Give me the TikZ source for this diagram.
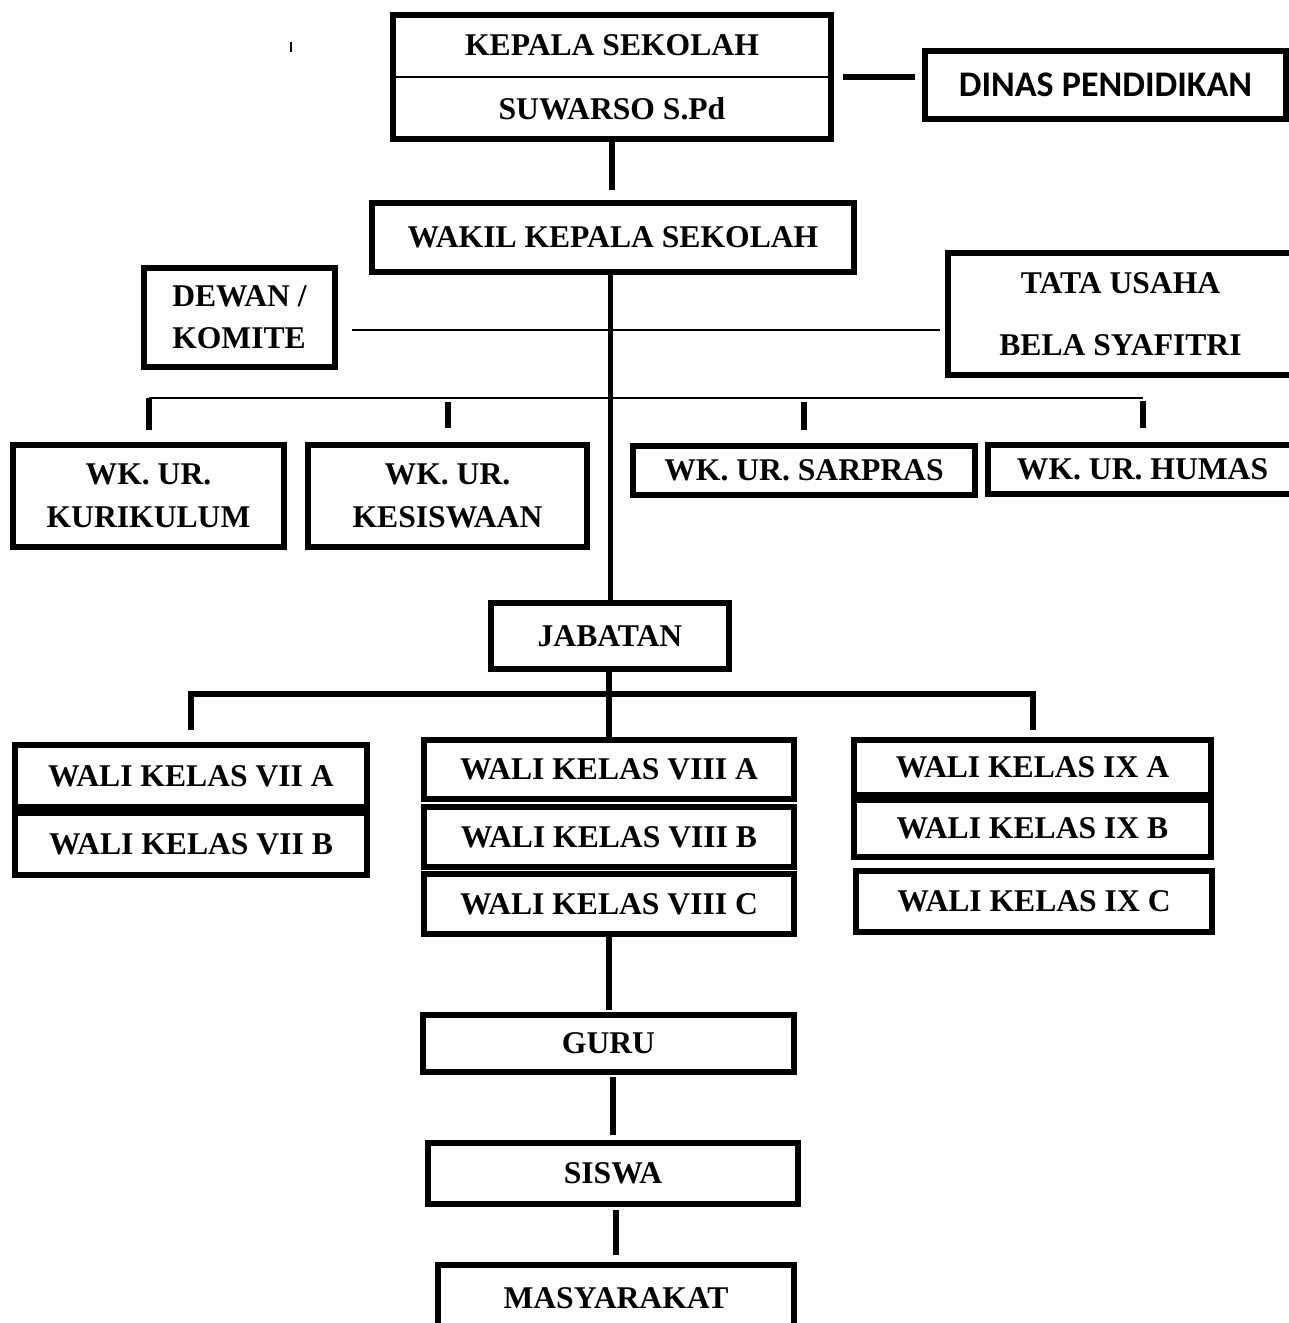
\documentclass[tikz,border=0pt]{standalone}
\usepackage{fontspec}
\setmainfont{Liberation Serif}
\newfontfamily\calibrifont{Carlito}
\usetikzlibrary{positioning, calc}

\begin{document}
\begin{tikzpicture}[
  x=0.02cm, y=-0.02cm,
  box/.style={draw, line width=0.12cm, inner sep=0pt, align=center, font=\fontsize{18}{22}\selectfont\bfseries},
  conn/.style={line width=0.12cm},
  thinline/.style={line width=0.05cm}
  ]
  \useasboundingbox (0,0) rectangle (1289,1323);
  \clip (0,0) rectangle (1289,1323);
  % kepala sekolah, dinas
  \node[box, minimum width=8.76cm, minimum height=2.48cm, font=\fontsize{18}{36.4}\selectfont\bfseries] (kepala) at (612,77) {KEPALA SEKOLAH\\SUWARSO S.Pd};
  \draw[line width=0.04cm] (kepala.west) -- (kepala.east);
  \node[box, minimum width=7.22cm, minimum height=1.36cm, font=\calibrifont\fontsize{20.5}{24}\selectfont\bfseries] (dinas) at (1105.5,85) {DINAS PENDIDIKAN};
  \draw[conn, shorten <=0.18cm, shorten >=0.14cm] (kepala.east) -- (kepala.east -| dinas.west);
  \draw[line width=0.03cm] (291,42) -- (291,52);
  % wakil
  \node[box, minimum width=9.64cm, minimum height=1.38cm] (wakil) at (613,237.5) {WAKIL KEPALA SEKOLAH};
  \draw[conn, shorten >=0.2cm] (kepala.south) -- (kepala.south |- wakil.north);
  \node[box, minimum width=3.82cm, minimum height=1.98cm, align=left, font=\fontsize{18}{24}\selectfont\bfseries] (dewan) at (239.5,317.5) {DEWAN /\\KOMITE};
  \node[box, minimum width=6.9cm, minimum height=2.44cm, font=\fontsize{18}{35}\selectfont\bfseries] (tata) at (1120.5,314) {TATA USAHA\\BELA SYAFITRI};
  % wk. ur.
  \node[box, minimum width=5.42cm, minimum height=2.04cm, font=\fontsize{18}{24.4}\selectfont\bfseries] (kur) at (148.5,496) {WK. UR.\\KURIKULUM};
  \node[box, minimum width=5.58cm, minimum height=2.04cm, font=\fontsize{18}{24.4}\selectfont\bfseries] (kes) at (447.5,496) {WK. UR.\\KESISWAAN};
  \node[box, minimum width=6.84cm, minimum height=0.98cm] (sar) at (804,470.5) {WK. UR. SARPRAS};
  \node[box, minimum width=6.18cm, minimum height=0.98cm] (hum) at (1142.5,469.5) {WK. UR. HUMAS};
  \node[box, minimum width=4.76cm, minimum height=1.32cm] (jab) at (610,636) {JABATAN};
  \coordinate (bus0) at (609,330);
  \coordinate (bus1) at (609,398);
  \draw[line width=0.1cm] (jab.north |- wakil.south) -- (jab.north);
  \draw[thinline, shorten <=0.28cm, shorten >=0.1cm] (dewan.east |- bus0) -- (tata.west |- bus0);
  \draw[thinline] (kur.north |- bus1) -- (hum.north |- bus1);
  \draw[conn, shorten >=0.24cm] (kur.north |- bus1) -- (kur.north);
  \draw[conn, shorten <=0.08cm, shorten >=0.28cm] (kes.north |- bus1) -- (kes.north);
  \draw[conn, shorten <=0.08cm, shorten >=0.26cm] (sar.north |- bus1) -- (sar.north);
  \draw[conn, shorten <=0.06cm, shorten >=0.28cm] (hum.north |- bus1) -- (hum.north);
  % wali kelas
  \node[box, minimum width=7.04cm, minimum height=1.24cm] (viiA) at (191,776) {WALI KELAS VII A};
  \node[box, minimum width=7.04cm, minimum height=1.24cm] (viiB) at (191,844) {WALI KELAS VII B};
  \node[box, minimum width=7.4cm, minimum height=1.18cm] (viiiA) at (609,769.5) {WALI KELAS VIII A};
  \node[box, minimum width=7.4cm, minimum height=1.2cm] (viiiB) at (609,837) {WALI KELAS VIII B};
  \node[box, minimum width=7.4cm, minimum height=1.2cm] (viiiC) at (609,904) {WALI KELAS VIII C};
  \node[box, minimum width=7.14cm, minimum height=1.1cm] (ixA) at (1032.5,767.5) {WALI KELAS IX A};
  \node[box, minimum width=7.14cm, minimum height=1.14cm] (ixB) at (1032.5,828.5) {WALI KELAS IX B};
  \node[box, minimum width=7.12cm, minimum height=1.22cm] (ixC) at (1034,901.5) {WALI KELAS IX C};
  \coordinate (bus2) at (609,694);
  \draw[conn] (viiiA.north |- jab.south) -- (viiiA.north);
  \draw[conn, shorten <=0.24cm, shorten >=0.14cm] (viiA.north) |- (bus2) -| (ixA.north);
  % guru, siswa, masyarakat
  \node[box, minimum width=7.42cm, minimum height=1.14cm] (guru) at (608.5,1043.5) {GURU};
  \node[box, minimum width=7.4cm, minimum height=1.22cm] (siswa) at (613,1173.5) {SISWA};
  \node[box, minimum width=7.12cm, minimum height=1.34cm] (masy) at (616,1298.5) {MASYARAKAT};
  \draw[conn, shorten >=0.04cm] (guru.north |- viiiC.south) -- (guru.north);
  \draw[conn, shorten <=0.04cm, shorten >=0.1cm] (siswa.north |- guru.south) -- (siswa.north);
  \draw[conn, shorten <=0.06cm, shorten >=0.14cm] (masy.north |- siswa.south) -- (masy.north);
\end{tikzpicture}
\end{document}
